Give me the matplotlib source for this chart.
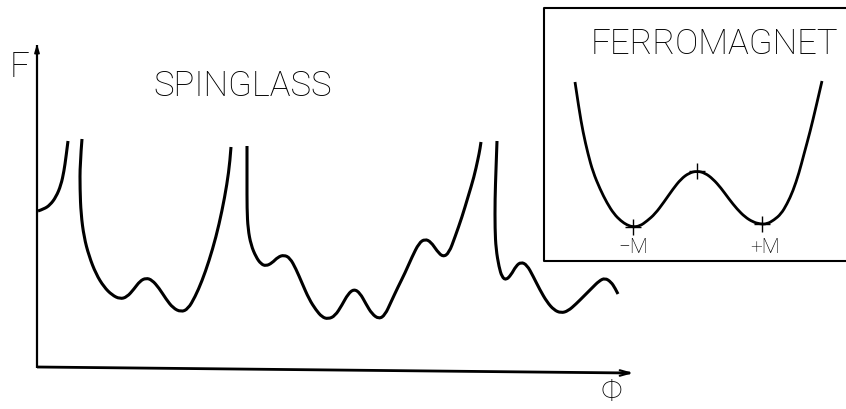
import matplotlib.pyplot as plt
from matplotlib.path import Path
from matplotlib.patches import PathPatch

# Sketch coordinates (pixels, y pointing down)
edge_curve = [(38, 212), (44, 210), (50, 206), (56, 198), (61, 186), (64, 172), (66, 158), (68, 142)]

valley_1 = [(82, 140), (80, 165), (80, 190), (81, 215), (84, 238), (89, 257), (96, 275), (104, 288),
            (112, 296), (120, 300), (127, 298), (134, 290), (140, 282), (146, 279), (152, 281),
            (159, 289), (166, 300), (173, 309), (181, 313), (188, 310), (195, 298), (202, 282),
            (209, 262), (216, 238), (222, 212), (227, 185), (230, 162), (231, 148)]

valley_2 = [(247, 147), (247, 180), (247, 210), (248, 230), (251, 246), (256, 258), (261, 265),
            (266, 267), (272, 264), (278, 258), (284, 256), (290, 259), (296, 270), (302, 284),
            (309, 300), (316, 311), (322, 318), (328, 320), (335, 317), (342, 306), (348, 295),
            (354, 290), (360, 294), (366, 305), (372, 315), (379, 320), (385, 316), (391, 303),
            (398, 288), (405, 274), (412, 258), (419, 244), (425, 240), (431, 243), (437, 252),
            (443, 258), (449, 254), (455, 238), (462, 218), (468, 198), (474, 178), (478, 160),
            (480, 150), (481, 143)]

valley_3 = [(497, 142), (496, 170), (495, 200), (495, 230), (496, 250), (499, 268), (502, 278),
            (506, 281), (511, 276), (516, 267), (521, 263), (527, 266), (533, 277), (540, 291),
            (547, 303), (554, 311), (561, 314), (568, 312), (576, 305), (584, 297), (592, 289),
            (599, 282), (605, 279), (611, 283), (615, 289), (618, 295)]

ferro_curve = [(575, 83), (579, 110), (583, 133), (588, 155), (593, 173), (600, 190), (607, 204),
               (614, 215), (621, 222), (627, 226), (633, 228), (640, 227), (647, 222), (655, 215),
               (664, 203), (673, 190), (681, 180), (689, 174), (697, 172), (705, 174), (713, 180),
               (721, 189), (729, 200), (737, 210), (745, 218), (753, 223), (760, 225), (767, 225),
               (774, 221), (781, 215), (787, 205), (793, 192), (799, 174), (804, 155), (810, 133),
               (816, 108), (822, 82)]

ferro_marks = [(633, 228), (697, 172), (762, 225)]
ferro_labels = ["\u2212M", "+M"]
ferro_label_pos = [(633, 248), (765, 248)]

box_x = [850, 544, 544, 850]
box_y = [9, 9, 262, 262]


def smooth_path(pts):
    # quadratic curve segments through the midpoints of the listed points
    verts = [pts[0]]
    codes = [Path.MOVETO]
    for i in range(1, len(pts) - 1):
        mid = ((pts[i][0] + pts[i + 1][0]) / 2, (pts[i][1] + pts[i + 1][1]) / 2)
        if i == len(pts) - 2:
            mid = pts[-1]
        verts += [pts[i], mid]
        codes += [Path.CURVE3, Path.CURVE3]
    return Path(verts, codes)


fig = plt.figure(figsize=(8.46, 4.10), dpi=100)
ax = fig.add_axes([0, 0, 1, 1])
ax.set_xlim(0, 846)
ax.set_ylim(410, 0)
ax.axis("off")

font = dict(family="Roboto", weight="light", color="black")

# axes of the sketch
ax.plot([37, 37], [46, 369], color="black", lw=1.6, solid_capstyle="butt")
ax.plot([37, 630], [368, 374], color="black", lw=2.0, solid_capstyle="butt")
ax.annotate("", xy=(37, 42), xytext=(37, 60),
            arrowprops=dict(arrowstyle="-|>,head_length=0.5,head_width=0.15", color="black", lw=1.2))
ax.annotate("", xy=(636, 374), xytext=(615, 374),
            arrowprops=dict(arrowstyle="->,head_length=0.7,head_width=0.2", color="black", lw=1.5))
ax.text(20, 67, "F", ha="center", va="center", fontsize=25, **font)
ax.text(611, 393, "\u03a6", ha="center", va="center", fontsize=22, **font)
ax.text(243, 86, "SPINGLASS", ha="center", va="center", fontsize=25, **font)

for pts in [edge_curve, valley_1, valley_2, valley_3]:
    ax.add_patch(PathPatch(smooth_path(pts), fill=False, lw=2.2, ec="black", capstyle="butt"))

# inset
ax.plot(box_x, box_y, color="black", lw=1.5)
ax.text(714, 44, "FERROMAGNET", ha="center", va="center", fontsize=25, **font)
ax.add_patch(PathPatch(smooth_path(ferro_curve), fill=False, lw=2.0, ec="black", capstyle="butt"))
ax.plot([p[0] for p in ferro_marks], [p[1] for p in ferro_marks], ls="none",
        marker="+", ms=11, mew=1.0, color="black")
for lab, (lx, ly) in zip(ferro_labels, ferro_label_pos):
    ax.text(lx, ly, lab, ha="center", va="center", fontsize=15, **font)

fig.savefig("out.png", dpi=100, facecolor="white")
